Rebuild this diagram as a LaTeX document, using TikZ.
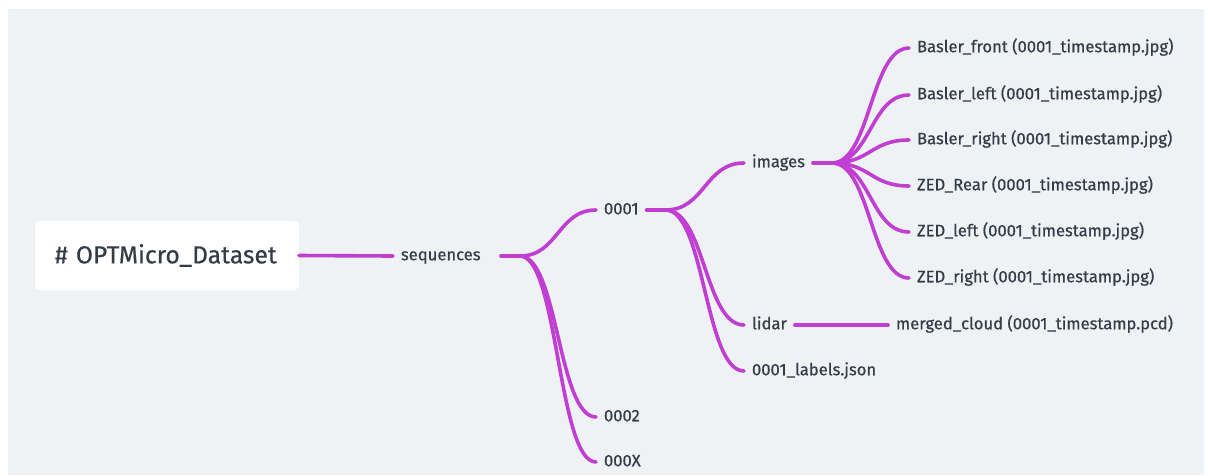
\documentclass[tikz,border=0pt]{standalone}
\usepackage{fontspec}
\setmainfont{Fira Sans}[FakeBold=0.6]
\usetikzlibrary{calc}
\definecolor{bgc}{HTML}{EFF2F5}
\definecolor{linkc}{HTML}{C03FD2}
\definecolor{txtc}{HTML}{343C47}
\tikzset{
  lbl/.style={anchor=west, inner sep=0pt, outer xsep=8pt, text=txtc,
    font=\fontsize{16.6}{19}\selectfont, text height=12pt, text depth=3.5pt},
  rootbox/.style={anchor=north west, fill=white, rounded corners=5pt,
    minimum width=264pt, minimum height=69pt, inner xsep=20pt, align=left,
    text=txtc, font=\fontsize{24.6}{28}\selectfont, outer sep=0pt,
    text width=224pt},
  link/.style={draw=linkc, line width=3.6pt, line cap=round}
}
\newcommand\branch[2]{%
  \path ($(#1)!.5!(#2.west)$) coordinate (mid);
  \draw[link] (#1) .. controls (mid |- #1) and (mid |- #2.west) .. (#2.west);}
\begin{document}
\begin{tikzpicture}[x=1pt,y=-1pt]
\useasboundingbox (0,0) rectangle (1208,475);
\fill[bgc] (8,9) rectangle (1204,475);
% nodes
\node[rootbox] (root) at (35,221) {\# OPTMicro\_Dataset};
\node[lbl, text width=92pt, align=left] (seq) at (393,256) {sequences};
\node[lbl] (s1) at (596,210) {0001};
\node[lbl] (s2) at (596,417) {0002};
\node[lbl] (sx) at (596,462) {000X};
\node[lbl] (img) at (744,163) {images};
\node[lbl] (lid) at (744,325) {lidar};
\node[lbl] (lab) at (744,371) {0001\_labels.json};
\node[lbl] (bf) at (909,48) {Basler\_front (0001\_timestamp.jpg)};
\node[lbl] (bl) at (909,95) {Basler\_left (0001\_timestamp.jpg)};
\node[lbl] (br) at (909,140) {Basler\_right (0001\_timestamp.jpg)};
\node[lbl] (zr) at (909,186) {ZED\_Rear (0001\_timestamp.jpg)};
\node[lbl] (zl) at (909,232) {ZED\_left (0001\_timestamp.jpg)};
\node[lbl] (zri) at (909,278) {ZED\_right (0001\_timestamp.jpg)};
\node[lbl] (mc) at (888,325) {merged\_cloud (0001\_timestamp.pcd)};
% connectors
\draw[link] (root.east) -- (seq.west);
\draw[link] (seq.east) -- ++(19,0) coordinate (f1);
\branch{f1}{s1}
\branch{f1}{s2}
\branch{f1}{sx}
\draw[link] (s1.east) -- ++(19,0) coordinate (f2);
\branch{f2}{img}
\branch{f2}{lid}
\branch{f2}{lab}
\draw[link] (img.east) -- ++(19,0) coordinate (f3);
\branch{f3}{bf}
\branch{f3}{bl}
\branch{f3}{br}
\branch{f3}{zr}
\branch{f3}{zl}
\branch{f3}{zri}
\draw[link] (lid.east) -- (mc.west);
\end{tikzpicture}
\end{document}
